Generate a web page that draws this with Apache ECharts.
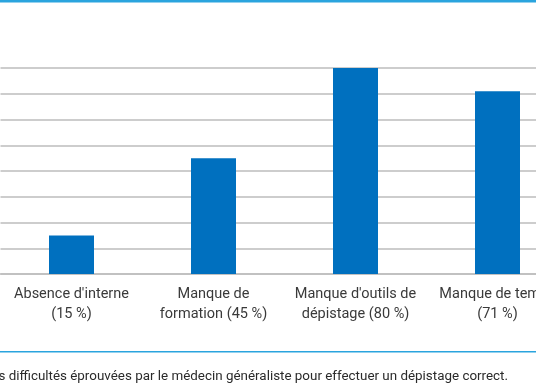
<!DOCTYPE html>
<html><head><meta charset="utf-8">
<script src="https://cdn.jsdelivr.net/npm/echarts@6/dist/echarts.min.js"></script>
<style>html,body{margin:0;padding:0;background:#fff;}#c{width:536px;height:386px;}</style>
</head><body><div id="c"></div>
<script>
const categories = ["Absence d'interne\n(15 %)", "Manque de\nformation (45 %)", "Manque d'outils de\ndépistage (80 %)", "Manque de temps\n(71 %)"];
const values = [15, 45, 80, 71];
const caption = "Figure 1 : Les difficultés éprouvées par le médecin généraliste pour effectuer un dépistage correct.";

const chart = echarts.init(document.getElementById('c'));
chart.setOption({
  animation: false,
  textStyle: {fontFamily: 'Roboto'},
  grid: {left: 0.5, width: 568, top: 68, height: 206, containLabel: false, outerBoundsMode: 'none'},
  xAxis: {
    type: 'category', data: categories,
    axisLine: {show: true, lineStyle: {color: '#bdbdbd', width: 1.5}},
    axisTick: {show: false},
    axisLabel: {color: '#3a3a3a', fontSize: 14.5, lineHeight: 20, margin: 10, interval: 0, fontFamily: 'Roboto', hideOverlap: false}
  },
  yAxis: {
    type: 'value', min: 0, max: 80, interval: 10,
    axisLabel: {show: false}, axisLine: {show: false}, axisTick: {show: false},
    splitLine: {lineStyle: {color: '#bdbdbd', width: 1.5}}
  },
  series: [{type: 'bar', data: values, barWidth: 45, itemStyle: {color: '#0070bf'}}],
  graphic: [
    {type: 'rect', shape: {x: 0, y: 0, width: 536, height: 2.5}, style: {fill: '#2aa4de'}},
    {type: 'rect', shape: {x: 0, y: 351, width: 536, height: 1.5}, style: {fill: '#2aa4de'}},
    {type: 'text', right: 28, top: 370, style: {text: caption, fill: '#2a2a2a', font: '13.4px Roboto'}}
  ]
});
</script></body></html>
